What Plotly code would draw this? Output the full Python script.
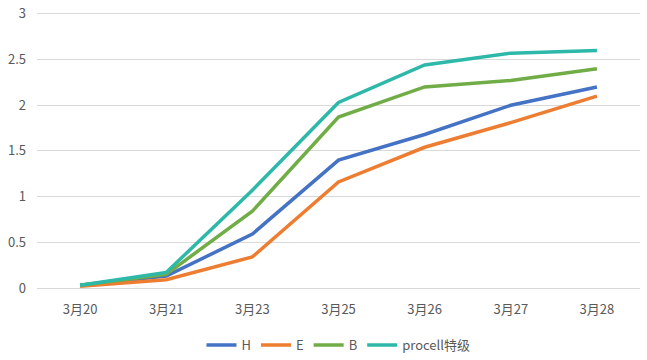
import plotly.graph_objects as go

categories = ["3月20", "3月21", "3月23", "3月25", "3月26", "3月27", "3月28"]
H = [0.03, 0.13, 0.59, 1.40, 1.68, 2.00, 2.20]
E = [0.02, 0.09, 0.34, 1.16, 1.54, 1.81, 2.10]
B = [0.03, 0.15, 0.84, 1.87, 2.20, 2.27, 2.40]
P = [0.03, 0.17, 1.07, 2.03, 2.44, 2.57, 2.60]
names = ["H", "E", "B", "procell特级"]
colors = ["#4472C4", "#ED7D31", "#70AD47", "#2EB8AA"]

fig = go.Figure()
for name, vals, col in zip(names, [H, E, B, P], colors):
    fig.add_trace(go.Scatter(x=categories, y=vals, name=name, mode="lines",
                             line=dict(color=col, width=3.5)))

font = "Noto Sans CJK SC, Microsoft YaHei, sans-serif"
fig.update_layout(
    width=647, height=360,
    margin=dict(l=37, r=7, t=12, b=72, autoexpand=False),
    paper_bgcolor="white", plot_bgcolor="white",
    font=dict(family=font, size=13, color="#595959"),
    showlegend=True,
    legend=dict(orientation="h", x=0.5, xanchor="center", y=-0.207, yanchor="middle",
                font=dict(size=13, color="#595959"), itemwidth=30, tracegroupgap=0),
    xaxis=dict(type="category", range=[-0.5, 6.5], showgrid=False, automargin=False,
               showline=True, linecolor="#D9D9D9", linewidth=1,
               ticks="", ticklabelstandoff=9, tickfont=dict(size=13, color="#595959"),
               zeroline=False),
    yaxis=dict(range=[0, 3.02], tickvals=[0, 0.5, 1, 1.5, 2, 2.5, 3],
               ticktext=["0", "0.5", "1", "1.5", "2", "2.5", "3"],
               showgrid=True, gridcolor="#D9D9D9", gridwidth=1,
               automargin=False, ticklabeloverflow="allow",
               zeroline=False, showline=False, ticks="", ticklabelstandoff=10,
               tickfont=dict(size=13, color="#595959")),
)
fig.write_html("out.html", config={"displayModeBar": False},
               post_script="document.body.style.margin='0';")
